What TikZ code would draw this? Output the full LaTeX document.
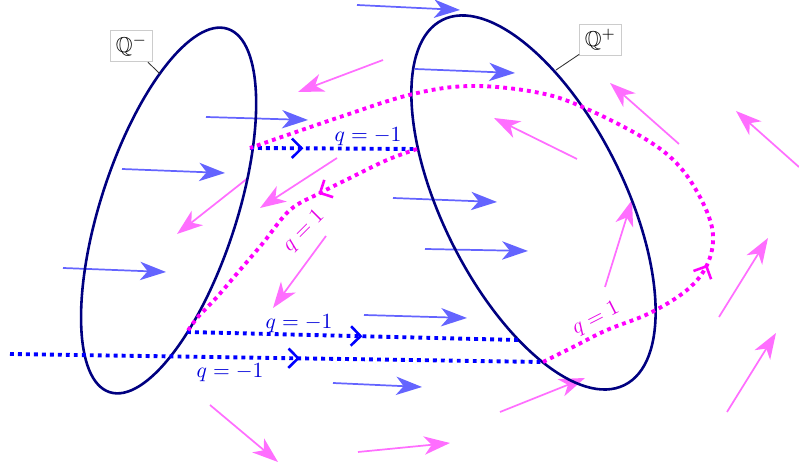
\documentclass[tikz,border=0pt]{standalone}
\usepackage{amssymb}
\usetikzlibrary{arrows.meta,decorations.markings}
\definecolor{magpure}{RGB}{255,0,255}
\definecolor{magfield}{RGB}{255,110,255}
\definecolor{bluepure}{RGB}{0,0,255}
\definecolor{bluefield}{RGB}{100,100,255}
\definecolor{navyset}{RGB}{0,0,128}
\tikzset{
  fieldB/.style={draw=bluefield, line width=0.8pt, -{Stealth[length=12pt,width=8.5pt,inset=3.5pt]}},
  fieldM/.style={draw=magfield, line width=0.8pt, -{Stealth[length=12pt,width=8.5pt,inset=3.5pt]}},
  setline/.style={draw=navyset, line width=1.2pt},
  dotB/.style={draw=bluepure, line width=1.8pt, dash pattern=on 1.8pt off 1.9pt},
  dotM/.style={draw=magpure, line width=1.8pt, dash pattern=on 1.8pt off 1.9pt},
  midarrow/.style={postaction={decorate, solid, decoration={markings,
      mark=at position #1 with {\arrow{Straight Barb[length=4.5pt,width=9pt,line width=1.2pt]}}}}},
  qtextB/.style={text=bluepure!85!black},
  qtextM/.style={text=magpure!90!black},
  setlabel/.style={draw=black!20, fill=white, inner sep=2.5pt, line width=0.4pt, text=black},
  pinline/.style={draw=black!80, line width=0.4pt},
}
\begin{document}
\begin{tikzpicture}[x={(0.0163cm,0)}, y={(0,-0.0163cm)}]
\useasboundingbox (0,0) rectangle (799,472);

% vector field (blue)
\draw[fieldB] (357,5) coordinate (b1t) -- (460,10) coordinate (b1h);
\draw[fieldB] (415,69) coordinate (b2t) -- (515,73) coordinate (b2h);
\draw[fieldB] (206,117) coordinate (b3t) -- (308,120) coordinate (b3h);
\draw[fieldB] (122,169) coordinate (b4t) -- (225,173) coordinate (b4h);
\draw[fieldB] (393,198) coordinate (b5t) -- (497,202) coordinate (b5h);
\draw[fieldB] (425,249) coordinate (b6t) -- (528,251) coordinate (b6h);
\draw[fieldB] (63,268) coordinate (b7t) -- (166,272) coordinate (b7h);
\draw[fieldB] (364,315) coordinate (b8t) -- (467,318) coordinate (b8h);
\draw[fieldB] (333,383) coordinate (b9t) -- (422,387) coordinate (b9h);

% vector field (magenta)
\draw[fieldM] (383,60) coordinate (m1t) -- (298,92) coordinate (m1h);
\draw[fieldM] (248,178) coordinate (m2t) -- (177,234) coordinate (m2h);
\draw[fieldM] (337,158) coordinate (m3t) -- (260,208) coordinate (m3h);
\draw[fieldM] (326,236) coordinate (m4t) -- (273,308) coordinate (m4h);
\draw[fieldM] (577,159) coordinate (m5t) -- (494,118) coordinate (m5h);
\draw[fieldM] (679,144) coordinate (m6t) -- (610,83) coordinate (m6h);
\draw[fieldM] (799,167) coordinate (m7t) -- (736,111) coordinate (m7h);
\draw[fieldM] (605,287) coordinate (m8t) -- (632,200) coordinate (m8h);
\draw[fieldM] (719,317) coordinate (m9t) -- (768,238) coordinate (m9h);
\draw[fieldM] (727,412) coordinate (m10t) -- (776,333) coordinate (m10h);
\draw[fieldM] (500,412) coordinate (m11t) -- (585,378) coordinate (m11h);
\draw[fieldM] (210,405) coordinate (m12t) -- (278,462) coordinate (m12h);
\draw[fieldM] (358,452) coordinate (m13t) -- (450,443) coordinate (m13h);

% the two sets
\coordinate (cm) at (168.6,210.5);
\coordinate (cp) at (533.5,202.5);
\draw[setline, rotate around={72:(cm)}] (cm) ellipse [x radius=191, y radius=68];
\draw[setline, rotate around={-63.5:(cp)}] (cp) ellipse [x radius=204, y radius=91];

% crossing points
\coordinate (p1) at (250,148);
\coordinate (p2) at (417,149);
\coordinate (p3) at (187,332);
\coordinate (p4) at (518,340);
\coordinate (p5) at (10,354);
\coordinate (p6) at (543,362);

% q = -1 flows
\draw[dotB, midarrow=0.32] (p1) -- (p2);
\draw[dotB, midarrow=0.53] (p3) -- (p4);
\draw[dotB, midarrow=0.544] (p5) -- (p6);

% q = 1 flows
\draw[dotM, midarrow=0.36] plot[smooth, tension=0.6] coordinates {(p2) (387,160) (350,178) (320,193) (290,210) (263,243) (240,270) (217,297) (198,317) (p3)};
\draw[dotM, midarrow=0.255] plot[smooth, tension=0.6] coordinates {(p6) (575,346) (607,330) (650,313) (687,290) (707,265) (713,235) (703,203) (680,167) (647,140) (587,109) (540,93) (473,86) (413,94) (340,117) (p1)};

% labels on flows
\node[qtextB] (l1) at (368,137) {$q=-1$};
\node[qtextB] (l2) at (299,324) {$q=-1$};
\node[qtextB] (l3) at (230,373) {$q=-1$};
\node[qtextM, rotate=45, inner sep=1pt] (l4) at (304,231) {$q=1$};
\node[qtextM, rotate=27, inner sep=1pt] (l5) at (596,319) {$q=1$};

% set labels
\node[setlabel] (qm) at (131.5,46) {$\mathbb{Q}^-$};
\node[setlabel] (qp) at (600.5,40) {$\mathbb{Q}^+$};
\coordinate (qmend) at (160,74);
\coordinate (qpend) at (556,70);
\draw[pinline] (qm) -- (qmend);
\draw[pinline] (qp) -- (qpend);
\end{tikzpicture}
\end{document}
